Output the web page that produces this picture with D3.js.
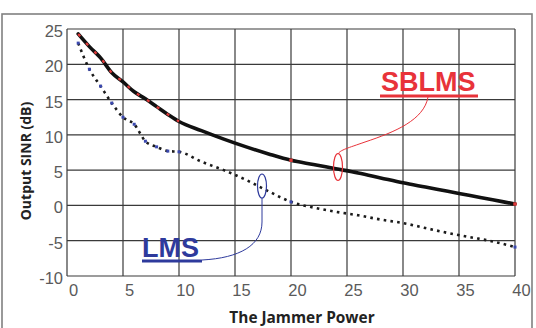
<!DOCTYPE html>
<html><head><meta charset="utf-8">
<script src="https://cdn.jsdelivr.net/npm/d3@7"></script>
<style>body{margin:0;background:#fff}svg{display:block}</style>
</head><body>
<svg id="c" width="536" height="328"></svg>
<script>
const xPower = [1,2,3,4,5,6,7,8,9,10,12,14,16,18,20,22,24,26,28,30,32,34,36,38,40];
const sblms = [24.3,22.5,20.9,18.8,17.5,16.1,15.1,14.0,12.9,11.9,10.6,9.4,8.3,7.3,6.4,5.8,5.2,4.6,3.9,3.2,2.6,2.0,1.4,0.8,0.2];
const lms = [23.0,19.3,16.9,14.5,12.5,11.5,9.1,8.3,7.7,7.6,6.2,5.0,3.6,2.0,0.5,-0.3,-0.9,-1.4,-2.0,-2.5,-3.2,-3.9,-4.5,-5.1,-5.9];
const xTicks = [0,5,10,15,20,25,30,35,40];
const yTicks = [-10,-5,0,5,10,15,20,25];
const markerX = [20,40];

const svg = d3.select("#c");
const L=67, R=515, T=29, B=276;
const x = d3.scaleLinear().domain([0,40]).range([L,R]);
const y = d3.scaleLinear().domain([-10,25]).range([B,T]);

// outer frame
svg.append("rect").attr("x",2).attr("y",14).attr("width",530).attr("height",318)
  .attr("fill","none").attr("stroke","#808080").attr("stroke-width",1.6);

// grid
const g = svg.append("g");
g.selectAll(".vx").data(xTicks).join("line")
  .attr("x1",d=>x(d)).attr("x2",d=>x(d)).attr("y1",T).attr("y2",B)
  .attr("stroke","#3a3a3a").attr("stroke-width",1.2);
g.selectAll(".hy").data(yTicks).join("line")
  .attr("y1",d=>y(d)).attr("y2",d=>y(d)).attr("x1",L).attr("x2",R)
  .attr("stroke","#3a3a3a").attr("stroke-width",1.2);

// axes labels via d3 axes
const fmt = d => String(d);
const xa = svg.append("g").attr("transform",`translate(0,${B})`)
  .call(d3.axisBottom(x).tickValues(xTicks).tickFormat(fmt).tickSize(0).tickPadding(8));
const ya = svg.append("g").attr("transform",`translate(${L},0)`)
  .call(d3.axisLeft(y).tickValues(yTicks).tickFormat(fmt).tickSize(0).tickPadding(4));
[xa,ya].forEach(a=>{
  a.select(".domain").remove();
  a.selectAll("text").attr("font-family","Liberation Sans, Arial, sans-serif")
   .attr("font-size",16.5).attr("fill","#5a5a5a");
});
xa.selectAll("text").attr("dx",6);
ya.selectAll("text").attr("dy","0.45em");

const line = d3.line().x((d,i)=>x(xPower[i])).y(d=>y(d)).curve(d3.curveMonotoneX);

// LMS dotted
svg.append("path").datum(lms).attr("d",line).attr("fill","none")
  .attr("stroke","#1a1a1a").attr("stroke-width",2.6).attr("stroke-dasharray","2.6 4.2");
svg.selectAll(".lm").data(xPower.map((v,i)=>[v,lms[i]]).filter(d=>d[0]<=10||markerX.includes(d[0])))
  .join("rect").attr("x",d=>x(d[0])-1.5).attr("y",d=>y(d[1])-1.5).attr("width",3).attr("height",3)
  .attr("fill","#3b49b0");

// SBLMS thick
svg.append("path").datum(sblms).attr("d",line).attr("fill","none")
  .attr("stroke","#111").attr("stroke-width",3.6).attr("stroke-linecap","round");
const firstIdx = xPower.indexOf(10);
svg.append("path").datum(sblms.slice(0,firstIdx+1))
  .attr("d",d3.line().x((d,i)=>x(xPower[i])).y(d=>y(d)).curve(d3.curveMonotoneX))
  .attr("fill","none").attr("stroke","#e03a3a").attr("stroke-width",2.2).attr("stroke-dasharray","3 9");
svg.selectAll(".sm").data(xPower.map((v,i)=>[v,sblms[i]]).filter(d=>markerX.includes(d[0])))
  .join("rect").attr("x",d=>x(d[0])-1.7).attr("y",d=>y(d[1])-1.7).attr("width",3.4).attr("height",3.4)
  .attr("fill","#e03a3a");

// axis titles
svg.append("text").attr("x",302).attr("y",322.5).attr("text-anchor","middle")
  .attr("font-family","Open Sans, sans-serif").attr("font-weight","bold").attr("font-size",15.4)
  .attr("fill","#222").text("The Jammer Power");
svg.append("text").attr("transform","translate(31,161) rotate(-90)").attr("text-anchor","middle")
  .attr("font-family","Open Sans, sans-serif").attr("font-weight","bold").attr("font-size",14)
  .attr("fill","#222").text("Output SINR (dB)");

// SBLMS annotation
const red="#e8333a", blue="#2e3a9c";
svg.append("text").attr("x",381).attr("y",91).attr("font-family","Liberation Sans, Arial, sans-serif")
  .attr("font-weight","bold").attr("font-size",27).attr("fill",red).text("SBLMS");
svg.append("rect").attr("x",380).attr("y",94.5).attr("width",98).attr("height",3).attr("fill",red);
svg.append("path").attr("d","M428,97 C424,120 395,132 365,142 C348,148 340,150 338,154")
  .attr("fill","none").attr("stroke",red).attr("stroke-width",1);
svg.append("ellipse").attr("cx",338).attr("cy",167).attr("rx",4.5).attr("ry",13.5)
  .attr("fill","none").attr("stroke",red).attr("stroke-width",1.2);

// LMS annotation
svg.append("text").attr("x",142).attr("y",257).attr("font-family","Liberation Sans, Arial, sans-serif")
  .attr("font-weight","bold").attr("font-size",27).attr("fill",blue).text("LMS");
svg.append("rect").attr("x",142).attr("y",259.5).attr("width",60).attr("height",3).attr("fill",blue);
svg.append("path").attr("d","M202,260 C240,258 262,245 262,222 L262,198")
  .attr("fill","none").attr("stroke",blue).attr("stroke-width",1);
svg.append("ellipse").attr("cx",262).attr("cy",186).attr("rx",4.5).attr("ry",12)
  .attr("fill","none").attr("stroke",blue).attr("stroke-width",1.2);
</script>
</body></html>
